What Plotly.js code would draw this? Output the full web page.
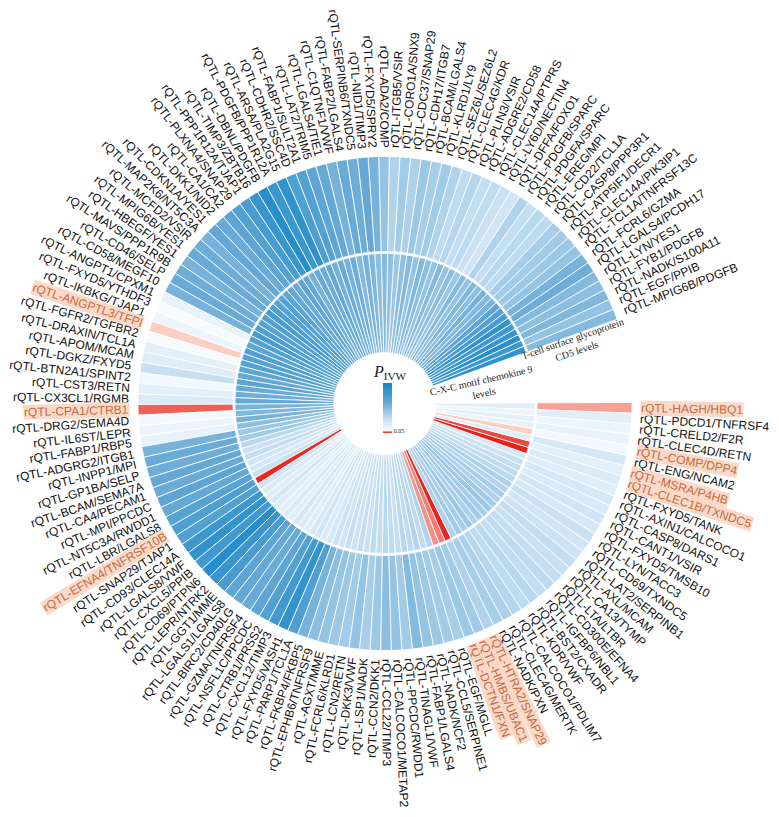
<!DOCTYPE html>
<html><head><meta charset="utf-8">
<script src="https://cdn.plot.ly/plotly-3.0.1.min.js"></script>
<style>html,body{margin:0;padding:0;background:#fff}#chart{width:779px;height:817px}</style>
</head><body><div id="chart"></div>
<script>
const labels = [
"MPIG6B/PDGFB","EGF/PPIB","NADK/S100A11","FYB1/PDGFB","LYN/YES1","LGALS4/PCDH17","FCRL6/GZMA","TCL1A/TNFRSF13C","CLEC14A/PIK3IP1","ATP5IF1/DECR1",
"CASP8/PPP3R1","CD22/TCL1A","EREG/MPI","PDGFA/SPARC","PDGFB/SPARC","DFFA/FOXO1","LY6D/NECTIN4","CLEC14A/PTPRS","ADGRE2/CD58","PLIN3/VSIR",
"CLEC4G/KDR","SEZ6L/SEZ6L2","KLRD1/LY9","BCAM/LGALS4","CDH17/ITGB7","CDC37/SNAP29","CORO1A/SNX9","ITGB5/VSIR","ADA2/COMP","FXYD5/SPRY2",
"NID1/TIMP3","SERPINB6/TXNDC5","FABP2/LGALS4","C1QTNF1/VWF","LGALS4/TIE1","LAT2/TRIM5","FABP1/SULT2A1","CDHR2/SSC4D","ARSA/PLA2G15","PDGFB/PPP1R12A",
"DBNL/PDGFB","TIMP3/ZBTB16","PPP1R12A/TJAP1","PLXNA4/SNAP29","CA1/CA2","DKK1/NID2","CDKN1A/YES1","MAP2K6/NT5C3A","MCFD2/VSIR","MPIG6B/YES1",
"HBEGF/YES1","MAVS/PPP1R9B","CD46/SELP","CD58/MEGF10","ANGPT1/CPXM1","FXYD5/YTHDF3","IKBKG/TJAP1","ANGPTL3/TFPI","FGFR2/TGFBR2","DRAXIN/TCL1A",
"APOM/MCAM","DGKZ/FXYD5","BTN2A1/SPINT2","CST3/RETN","CX3CL1/RGMB","CPA1/CTRB1","DRG2/SEMA4D","IL6ST/LEPR","FABP1/RBP5","ADGRG2/ITGB1",
"INPP1/MPI","GP1BA/SELP","BCAM/SEMA7A","CA4/PECAM1","MPI/PPCDC","NT5C3A/RWDD1","LBR/LGALS8","EFNA4/TNFRSF10B","SNAP29/TJAP1","CD93/CLEC14A",
"LGALS8/VWF","CXCL5/PPIB","CD69/PTPN6","LEPR/NTRK2","GGT1/MME","LGALS1/LGALS8","BIRC2/CD40LG","GZMA/TNFRSF4","NSFL1C/PPCDC","CTRB1/PRSS2",
"CXCL12/TIMP3","FXYD5/VASH1","PARP1/TCL1A","FKBP4/FKBP5","EPHB6/TNFRSF9","AGXT/MME","FCRL6/KLRD1","LCN2/RETN","DKK3/VWF","LSP1/NADK",
"CCN2/DKK1","CCL22/TIMP3","CALCOCO1/METAP2","PPCDC/RWDD1","TINAGL1/VWF","FABP1/LGALS4","NADK/NCF2","CCL5/SERPINE1","EGF/MGLL","DCTN1/FXN",
"HMBS/UBAC1","HTRA2/SNAP29","NADK/PXN","CLEC4G/MERTK","CALCOCO1/PDLIM7","KDR/VWF","BST2/CXADR","IGFBP6/NBL1","CD300E/EFNA4","LTA/LTBR",
"CA13/TYMP","AXL/MCAM","LAT2/SERPINB1","CD69/TXNDC5","LYN/TACC3","FXYD5/TMSB10","CANT1/VSIR","CASP8/DARS1","AXIN1/CALCOCO1","FXYD5/TANK",
"CLEC1B/TXNDC5","MSRA/P4HB","ENG/NCAM2","COMP/DPP4","CLEC4D/RETN","CRELD2/F2R","PDCD1/TNFRSF4","HAGH/HBQ1"];

// outer ring: T-cell surface glycoprotein CD5 levels (P IVW)
const outerP = [
0.50,0.45,0.52,0.48,0.50,0.58,0.55,0.45,0.42,0.40,
0.38,0.30,0.32,0.28,0.35,0.22,0.25,0.30,0.28,0.33,
0.30,0.35,0.40,0.38,0.42,0.36,0.40,0.35,0.45,0.55,
0.62,0.58,0.60,0.55,0.62,0.65,0.70,0.72,0.85,0.80,
0.90,0.82,0.75,0.70,0.65,0.60,0.62,0.55,0.58,0.60,
0.55,0.58,0.60,0.55,0.12,0.06,0.10,0.045,0.06,0.14,
0.16,0.26,0.08,0.14,0.18,0.018,0.07,0.10,0.12,0.55,
0.60,0.58,0.62,0.60,0.65,0.62,0.68,0.72,0.70,0.80,
0.85,0.78,0.90,0.82,0.75,0.65,0.62,0.60,0.65,0.70,
0.78,0.85,0.72,0.55,0.48,0.45,0.42,0.40,0.45,0.38,
0.42,0.48,0.45,0.40,0.50,0.45,0.42,0.40,0.38,0.42,
0.40,0.35,0.38,0.36,0.33,0.30,0.32,0.28,0.30,0.27,
0.25,0.28,0.24,0.22,0.25,0.20,0.22,0.18,0.20,0.16,
0.18,0.14,0.20,0.08,0.12,0.10,0.15,0.034];

// inner ring: C-X-C motif chemokine 9 levels (P IVW)
const innerP = [
0.85,0.80,0.88,0.82,0.78,0.85,0.75,0.70,0.65,0.55,
0.50,0.55,0.48,0.52,0.45,0.50,0.42,0.48,0.45,0.50,
0.44,0.48,0.52,0.45,0.50,0.47,0.42,0.46,0.50,0.48,
0.52,0.55,0.50,0.58,0.55,0.60,0.56,0.62,0.58,0.60,
0.55,0.62,0.65,0.60,0.63,0.66,0.70,0.68,0.72,0.75,
0.70,0.68,0.72,0.75,0.70,0.66,0.72,0.68,0.70,0.65,
0.62,0.66,0.60,0.58,0.62,0.55,0.52,0.55,0.48,0.42,
0.40,0.32,0.25,0.28,0.22,0.20,0.25,0.004,0.22,0.18,
0.15,0.20,0.16,0.14,0.18,0.15,0.20,0.17,0.15,0.19,
0.22,0.18,0.20,0.24,0.22,0.26,0.24,0.28,0.25,0.30,
0.28,0.32,0.30,0.27,0.32,0.30,0.34,0.30,0.35,0.030,
0.025,0.003,0.35,0.40,0.38,0.42,0.36,0.40,0.38,0.42,
0.40,0.36,0.38,0.34,0.36,0.32,0.30,0.28,0.25,0.20,
0.002,0.012,0.15,0.045,0.12,0.14,0.10,0.16];

const ringNames = ["C-X-C motif chemokine 9<br>levels", "T-cell surface glycoprotein<br>CD5 levels"];
const legendTitle = "<i>P</i><sub>IVW</sub>";

const W=779, H=817, CX=385, CY=403.5, R=247;
const STEP=360/146, THETA0=21.2;
const theta = labels.map((_,i)=>THETA0+STEP*i);

const colorscale = [[0,'rgb(230,24,18)'],[0.049,'rgb(252,222,208)'],[0.05,'rgb(248,251,254)'],
  [0.3,'rgb(190,219,239)'],[0.6,'rgb(105,170,215)'],[1,'rgb(16,132,198)']];

const inner = {type:'barpolar', theta:theta, r:labels.map(()=>99), base:51, width:STEP,
  marker:{color:innerP, colorscale:colorscale, cmin:0, cmax:1, showscale:false, line:{color:'white', width:0.8}},
  hoverinfo:'skip', showlegend:false};
const outer = {type:'barpolar', theta:theta, r:labels.map(()=>95), base:152, width:STEP,
  marker:{color:outerP, colorscale:colorscale, cmin:0, cmax:1, showscale:true, line:{color:'white', width:0.8},
    colorbar:{x:383/W, xanchor:'left', y:1-408/H, yanchor:'middle', len:50, lenmode:'pixels', thickness:9,
      outlinewidth:0, tickvals:[0.05], ticktext:['0.05'], ticks:'', tickfont:{size:6, family:'Liberation Serif', color:'#222'},
      xpad:0, ypad:0}},
  hoverinfo:'skip', showlegend:false};

const ctx = document.createElement('canvas').getContext('2d');
ctx.font = "12px 'Liberation Sans'";
const anns = labels.map((lab,i)=>{
  const txt = 'rQTL-'+lab;
  const hi = outerP[i]<0.05 || innerP[i]<0.05;
  const w = ctx.measureText(txt).width;
  const th = theta[i], phi = th*Math.PI/180;
  const r = 256 + w/2;
  const x = CX + r*Math.cos(phi), y = CY - r*Math.sin(phi);
  const left = th>90 && th<270;
  const ang = left ? 180-th : -th;
  return {xref:'paper', yref:'paper', x:x/W, y:1-y/H, xanchor:'center', yanchor:'middle', text:txt,
    showarrow:false, textangle:ang, borderpad:0,
    font:{family:'Liberation Sans, Arial, sans-serif', size:12, color: hi?'#c4693f':'#111'},
    bgcolor: hi?'#fbd9c8':'rgba(0,0,0,0)'};
});
anns.push({xref:'paper', yref:'paper', x:482/W, y:1-387/H, xanchor:'center', yanchor:'middle', text:ringNames[0],
  showarrow:false, textangle:-13, font:{family:'Liberation Serif, serif', size:10, color:'#222'}});
anns.push({xref:'paper', yref:'paper', x:574/W, y:1-345/H, xanchor:'center', yanchor:'middle', text:ringNames[1],
  showarrow:false, textangle:-19, font:{family:'Liberation Serif, serif', size:10, color:'#222'}});
anns.push({xref:'paper', yref:'paper', x:390/W, y:1-373/H, xanchor:'center', yanchor:'middle', text:legendTitle,
  showarrow:false, font:{family:'Liberation Serif, serif', size:16, color:'#222'}});

const layout = {width:W, height:H, margin:{l:0,r:0,t:0,b:0}, paper_bgcolor:'white', showlegend:false,
  annotations:anns,
  polar:{domain:{x:[(CX-R)/W,(CX+R)/W], y:[(H-CY-R)/H,(H-CY+R)/H]}, bgcolor:'white', barmode:'overlay',
    radialaxis:{visible:false, range:[0,R]},
    angularaxis:{rotation:0, direction:'counterclockwise', showline:false, showgrid:false, showticklabels:false, ticks:''}}};

Plotly.newPlot('chart',[inner,outer],layout,{displayModeBar:false, staticPlot:true});
</script></body></html>
